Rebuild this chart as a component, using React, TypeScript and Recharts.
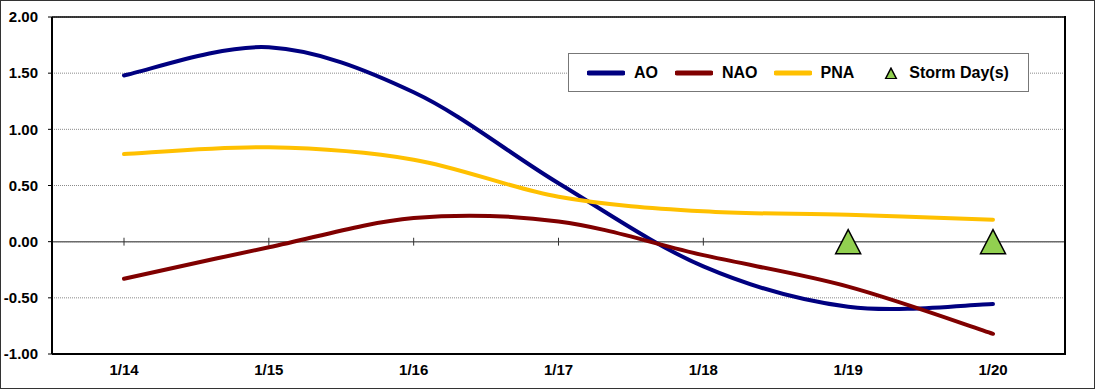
import {
  LineChart,
  Line,
  XAxis,
  YAxis,
  CartesianGrid,
  ReferenceLine,
  Legend,
} from "recharts";

const days = ["1/14", "1/15", "1/16", "1/17", "1/18", "1/19", "1/20"];
const aoValues = [1.48, 1.73, 1.33, 0.52, -0.22, -0.58, -0.555];
const naoValues = [-0.33, -0.05, 0.21, 0.18, -0.12, -0.4, -0.82];
const pnaValues = [0.78, 0.84, 0.73, 0.4, 0.27, 0.24, 0.195];
const stormValues = [null, null, null, null, null, 0, 0];
const yTicks = [-1, -0.5, 0, 0.5, 1, 1.5, 2];

const data = days.map((day, i) => ({
  day,
  ao: aoValues[i],
  nao: naoValues[i],
  pna: pnaValues[i],
  storm: stormValues[i],
}));

const FONT = "Arial, 'Liberation Sans', sans-serif";

// Excel-style smoothed line (Catmull-Rom through every point)
const excelSmooth = (context: any) => {
  let pts: number[][] = [];
  return {
    areaStart() {},
    areaEnd() {},
    lineStart() {
      pts = [];
    },
    point(x: number, y: number) {
      pts.push([+x, +y]);
    },
    lineEnd() {
      if (!pts.length) return;
      context.moveTo(pts[0][0], pts[0][1]);
      for (let i = 0; i < pts.length - 1; i++) {
        const p0 = pts[Math.max(i - 1, 0)];
        const p1 = pts[i];
        const p2 = pts[i + 1];
        const p3 = pts[Math.min(i + 2, pts.length - 1)];
        context.bezierCurveTo(
          p1[0] + (p2[0] - p0[0]) / 6,
          p1[1] + (p2[1] - p0[1]) / 6,
          p2[0] - (p3[0] - p1[0]) / 6,
          p2[1] - (p3[1] - p1[1]) / 6,
          p2[0],
          p2[1]
        );
      }
    },
  };
};

const Triangle = ({ cx, cy, size }: { cx: number; cy: number; size: number }) => {
  const h = size * 0.96;
  return (
    <polygon
      points={`${cx},${cy - h / 2} ${cx - size / 2},${cy + h / 2} ${cx + size / 2},${cy + h / 2}`}
      fill="#92D050"
      stroke="#000"
      strokeWidth={1.5}
    />
  );
};

const StormDot = (props: any) => {
  const { cx, cy, value, index } = props;
  if (value == null || cy == null || cx == null) return <g key={index} />;
  return <Triangle key={index} cx={cx} cy={cy} size={25} />;
};

const LegendBox = () => {
  const lineItem = (color: string, label: string, ml: number) => (
    <div style={{ display: "flex", alignItems: "center", marginLeft: ml }}>
      <svg width={38} height={8}>
        <line x1={2} y1={4} x2={36} y2={4} stroke={color} strokeWidth={5} strokeLinecap="round" />
      </svg>
      <span style={{ marginLeft: 9 }}>{label}</span>
    </div>
  );
  return (
    <div
      style={{
        width: 461,
        height: 39,
        boxSizing: "border-box",
        border: "1px solid #777",
        background: "#fff",
        display: "flex",
        alignItems: "center",
        fontFamily: FONT,
        fontWeight: "bold",
        fontSize: 16,
        color: "#000",
      }}
    >
      {lineItem("#000080", "AO", 18)}
      {lineItem("#800000", "NAO", 17)}
      {lineItem("#FFC000", "PNA", 16)}
      <div style={{ display: "flex", alignItems: "center", marginLeft: 30 }}>
        <svg width={14} height={12}>
          <Triangle cx={7} cy={6.5} size={11} />
        </svg>
        <span style={{ marginLeft: 11 }}>Storm Day(s)</span>
      </div>
    </div>
  );
};

export default function App() {
  return (
    <div
      style={{
        position: "absolute",
        left: 0,
        top: 0,
        width: 1095,
        height: 389,
        boxSizing: "border-box",
        border: "1px solid #333",
        background: "#fff",
      }}
    >
      <div style={{ position: "absolute", left: -1, top: -1 }}>
        <LineChart
          width={1095}
          height={389}
          data={data}
          margin={{ top: 17, right: 30, bottom: 0, left: 0 }}
        >
          <CartesianGrid
            vertical={false}
            stroke="#8a8a8a"
            strokeDasharray="1 1"
          />
          <XAxis
            dataKey="day"
            padding={{ left: 72, right: 72 }}
            height={35}
            tickLine={false}
            tickMargin={4}
            axisLine={{ stroke: "#000", strokeWidth: 2 }}
            tick={{ fontSize: 15, fontWeight: "bold", fill: "#000", fontFamily: FONT }}
            interval={0}
          />
          <YAxis
            domain={[-1, 2]}
            ticks={yTicks}
            width={52}
            tickSize={4}
            tickMargin={10}
            tickLine={{ stroke: "#000" }}
            axisLine={{ stroke: "#000", strokeWidth: 2 }}
            tickFormatter={(v: number) => v.toFixed(2)}
            tick={{ fontSize: 15, fontWeight: "bold", fill: "#000", fontFamily: FONT }}
            interval={0}
          />
          <ReferenceLine y={0} stroke="#6b6b6b" strokeWidth={1.5} />
          <ReferenceLine y={2} stroke="#000" strokeWidth={1.5} />
          {days.map((d) => (
            <ReferenceLine
              key={d}
              segment={[
                { x: d, y: -0.035 },
                { x: d, y: 0.035 },
              ]}
              stroke="#333"
              strokeWidth={1}
            />
          ))}
          <Legend
            layout="horizontal"
            verticalAlign="middle"
            align="center"
            content={() => <LegendBox />}
            wrapperStyle={{ left: 568, top: 53, width: 461, height: 39 }}
          />
          <Line
            dataKey="ao"
            name="AO"
            type={excelSmooth as any}
            stroke="#000080"
            strokeWidth={4}
            strokeLinecap="round"
            dot={false}
            activeDot={false}
            isAnimationActive={false}
          />
          <Line
            dataKey="nao"
            name="NAO"
            type={excelSmooth as any}
            stroke="#800000"
            strokeWidth={4}
            strokeLinecap="round"
            dot={false}
            activeDot={false}
            isAnimationActive={false}
          />
          <Line
            dataKey="pna"
            name="PNA"
            type={excelSmooth as any}
            stroke="#FFC000"
            strokeWidth={4}
            strokeLinecap="round"
            dot={false}
            activeDot={false}
            isAnimationActive={false}
          />
          <Line
            dataKey="storm"
            name="Storm Day(s)"
            stroke="none"
            dot={StormDot}
            activeDot={false}
            isAnimationActive={false}
          />
        </LineChart>
        {/* right edge of the plot frame */}
        <div
          style={{
            position: "absolute",
            left: 1064,
            top: 16,
            width: 1.5,
            height: 339,
            background: "#000",
            pointerEvents: "none",
          }}
        />
      </div>
    </div>
  );
}
